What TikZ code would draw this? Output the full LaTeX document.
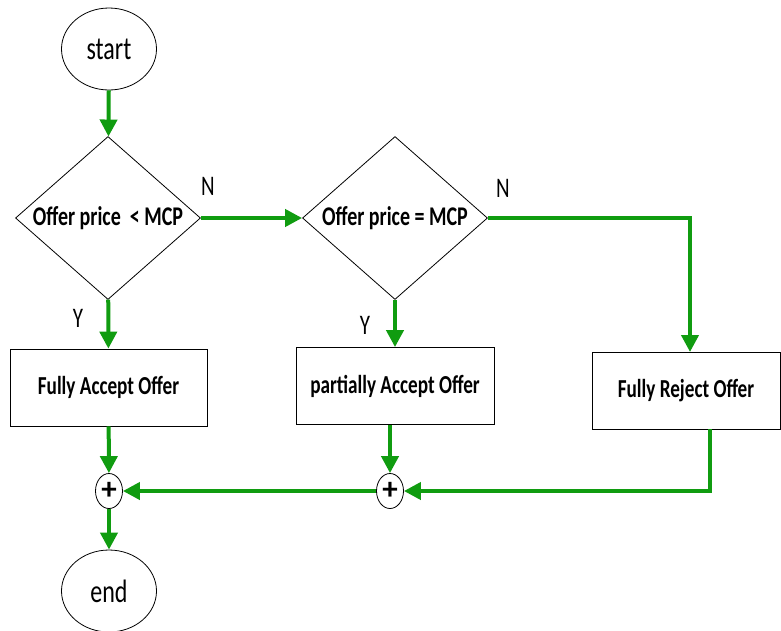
\documentclass[tikz,border=0pt]{standalone}
\usepackage{fontspec}
\setmainfont{Carlito}
\usetikzlibrary{shapes.geometric, arrows.meta}
\definecolor{flowgreen}{RGB}{16,156,16}
\newcommand{\tallbox}[1]{\scalebox{1}[1.35]{#1}}
\tikzset{
  term1/.style = {
    shape = ellipse,
    draw = black,
    thick,
    inner sep = 0pt,
    minimum width = 95pt,
    minimum height = 82pt,
    font = \fontsize{24}{26}\selectfont,
  }
}
\tikzset{
  cond1/.style = {
    shape = diamond,
    draw = black,
    thick,
    inner sep = 0pt,
    aspect = 1.3,
    minimum width = 185pt,
    minimum height = 163pt,
    font = \bfseries\fontsize{20}{22}\selectfont,
  }
}
\tikzset{
  rect1/.style = {
    shape = rectangle,
    draw = black,
    thick,
    minimum height = 77pt,
    font = \bfseries\fontsize{19.2}{22}\selectfont,
  }
}
\tikzset{
  join1/.style = {
    shape = ellipse,
    draw = black,
    thick,
    inner sep = 0pt,
    minimum width = 27pt,
    minimum height = 35pt,
    font = \bfseries\fontsize{31}{31}\selectfont,
  }
}
\tikzset{
  mark1/.style = {
    font = \fontsize{21}{22}\selectfont,
  }
}
\tikzset{
  arrow1/.style = {
    draw = flowgreen, line width = 4pt, -{Triangle[length = 17pt, width = 17pt]},
  }
}
\begin{document}
\begin{tikzpicture}[x=1pt, y=-1pt]
            \useasboundingbox (0,0) rectangle (781,630);
            \node[term1](start) at (109,49){\tallbox{start}};
            \node[cond1](d1) at (108,218){\tallbox{Offer price\ \ < MCP}};
            \node[cond1](d2) at (395,218){\tallbox{Offer price = MCP}};
            \node[rect1, minimum width = 197pt](b1) at (108.5,387.5){\tallbox{Fully Accept Offer}};
            \node[rect1, minimum width = 198pt](b2) at (395,386){\tallbox{partially Accept Offer}};
            \node[rect1, minimum width = 188pt](b3) at (686,390.5){\tallbox{Fully Reject Offer}};
            \node[join1](j1) at (109,491){+};
            \node[join1](j2) at (390,491){+};
            \node[term1](end) at (109,591){\tallbox{end}};
            \node[mark1](n1) at (208,186){\tallbox{N}};
            \node[mark1](n2) at (503,188){\tallbox{N}};
            \node[mark1](y1) at (78,318){\tallbox{Y}};
            \node[mark1](y2) at (365,325){\tallbox{Y}};
            \coordinate (t3) at (690,352);
            \coordinate (r3) at (710,429);
            \draw[arrow1](start) -- (d1);
            \draw[arrow1](d1.east) -- (d2.west);
            \draw[arrow1](d1) -- (b1);
            \draw[arrow1](d2) -- (b2);
            \draw[arrow1](d2.east) -| (t3);
            \draw[arrow1](b1) -- (j1);
            \draw[arrow1](b2.south -| j2) -- (j2);
            \draw[arrow1](r3) |- (j2);
            \draw[arrow1](j2) -- (j1);
            \draw[arrow1](j1) -- (end);
        \end{tikzpicture}
\end{document}
